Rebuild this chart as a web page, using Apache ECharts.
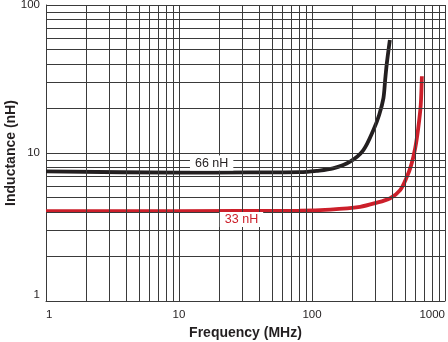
<!DOCTYPE html>
<html>
<head>
<meta charset="utf-8">
<script src="https://cdn.jsdelivr.net/npm/echarts@6/dist/echarts.min.js"></script>
<style>
  html, body { margin: 0; padding: 0; background: #ffffff; }
  #chart { width: 448px; height: 342px; }
</style>
</head>
<body>
<div id="chart"></div>
<script>
// Inductance vs. frequency for two chip inductors (log-log)
const freq66 = [1, 10, 34, 81, 108.5, 143.9, 193.3, 243.4, 289.6, 319.7, 344.5, 354.8, 365.3, 384.9];
const ind66  = [7.51, 7.37, 7.39, 7.42, 7.58, 7.87, 8.74, 10.46, 14.29, 18.05, 23.5, 31.1, 40.4, 58.1];

const freq33 = [1, 10, 81, 137, 230, 298, 387, 460, 517, 557, 597, 629, 657, 670];
const ind33  = [4.05, 4.05, 4.08, 4.15, 4.33, 4.58, 4.95, 5.61, 6.9, 8.28, 10.8, 14.7, 21.1, 33];

// Curve labels: text and anchor in data units [MHz, nH]
const label66 = { text: '66 nH', at: [17.6, 8.55] };
const label33 = { text: '33 nH', at: [29.5, 3.55] };

// Intermediate grid lines between the decades
const minorX = [2, 3, 4, 5, 6, 7, 8, 9, 20, 30, 40, 50, 60, 70, 80, 90, 200, 300, 400, 500, 600, 700, 800, 900];
const minorY = [2, 3, 4, 5, 6, 7, 8, 9, 20, 30, 40, 50, 60, 70, 80, 90];

const GRID = '#3a3a3a';
const FONT = 'Liberation Sans';

const zip = (xs, ys) => xs.map((x, i) => [x, ys[i]]);

const chart = echarts.init(document.getElementById('chart'), null, { renderer: 'canvas' });

chart.setOption({
  animation: false,
  backgroundColor: '#ffffff',
  grid: { left: 46, top: 5, width: 399, height: 296, containLabel: false, outerBoundsMode: 'none' },
  xAxis: {
    type: 'log',
    logBase: 10,
    min: 1,
    max: 1000,
    name: 'Frequency (MHz)',
    nameLocation: 'middle',
    nameGap: 25,
    nameMoveOverlap: false,
    nameTextStyle: { fontFamily: FONT, fontWeight: 'bold', fontSize: 14, color: '#231f20' },
    axisLine: { show: true, lineStyle: { color: GRID, width: 1 } },
    axisTick: { show: false },
    axisLabel: {
      fontFamily: FONT, fontSize: 11.5, color: '#231f20', margin: 8,
      alignMinLabel: 'left', alignMaxLabel: 'right',
      formatter: v => String(Math.round(v))
    },
    splitLine: { show: true, lineStyle: { color: GRID, width: 1 } },
    minorTick: { show: false },
    minorSplitLine: { show: false }
  },
  yAxis: {
    type: 'log',
    logBase: 10,
    min: 1,
    max: 100,
    name: 'Inductance (nH)',
    nameLocation: 'middle',
    nameGap: 28,
    nameMoveOverlap: false,
    nameTextStyle: { fontFamily: FONT, fontWeight: 'bold', fontSize: 14, color: '#231f20' },
    axisLine: { show: true, lineStyle: { color: GRID, width: 1 } },
    axisTick: { show: false },
    axisLabel: {
      fontFamily: FONT, fontSize: 11.5, color: '#231f20', margin: 6,
      verticalAlignMinLabel: 'bottom',
      formatter: v => String(Math.round(v))
    },
    splitLine: { show: true, lineStyle: { color: GRID, width: 1 } }
  },
  series: [
    {
      // grid lines between decades
      type: 'line',
      data: [],
      silent: true,
      z: 1,
      markLine: {
        silent: true,
        symbol: 'none',
        label: { show: false },
        lineStyle: { color: GRID, width: 1, type: 'solid' },
        emphasis: { disabled: true },
        data: minorX.map(v => ({ xAxis: v })).concat(minorY.map(v => ({ yAxis: v })))
      }
    },
    {
      name: '66 nH',
      type: 'line',
      data: zip(freq66, ind66),
      smooth: 0.3,
      showSymbol: false,
      z: 3,
      lineStyle: { color: '#231f20', width: 3.8, cap: 'butt' },
      markPoint: {
        silent: true,
        symbol: 'rect',
        symbolSize: 0,
        data: [{ coord: label66.at, value: label66.text }],
        label: {
          show: true,
          position: 'inside',
          formatter: label66.text,
          fontFamily: FONT, fontSize: 12.5, color: '#231f20',
          backgroundColor: '#ffffff',
          padding: [1, 5]
        }
      }
    },
    {
      name: '33 nH',
      type: 'line',
      data: zip(freq33, ind33),
      smooth: 0.3,
      showSymbol: false,
      z: 3,
      lineStyle: { color: '#cc1f2a', width: 3.8, cap: 'butt' },
      markPoint: {
        silent: true,
        symbol: 'rect',
        symbolSize: 0,
        data: [{ coord: label33.at, value: label33.text }],
        label: {
          show: true,
          position: 'inside',
          formatter: label33.text,
          fontFamily: FONT, fontSize: 12.5, color: '#cc1f2a',
          backgroundColor: '#ffffff',
          padding: [1, 5]
        }
      }
    }
  ]
});
</script>
</body>
</html>
